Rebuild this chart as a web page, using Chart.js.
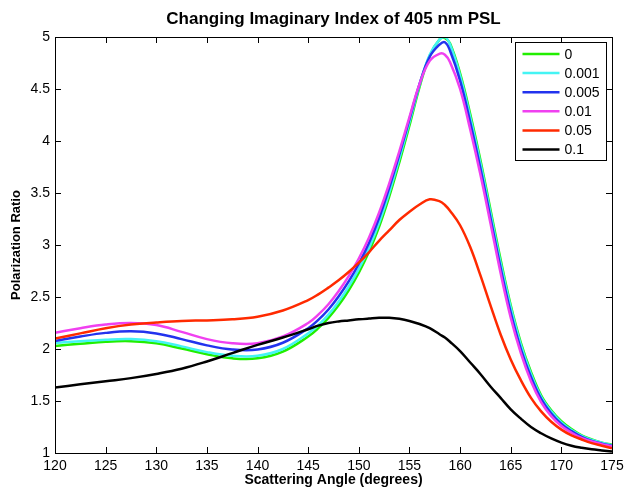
<!DOCTYPE html>
<html>
<head>
<meta charset="utf-8">
<script src="https://cdn.jsdelivr.net/npm/chart.js@4/dist/chart.umd.min.js"></script>
<style>
  html, body { margin: 0; padding: 0; background: #fff; }
  #wrap { width: 624px; height: 489px; }
</style>
</head>
<body>
<div id="wrap"><canvas id="psl"></canvas></div>
<script>
// Scattering angles (degrees)
const angles = [120, 122.5, 125, 127.5, 130, 132.5, 135, 137.5, 140, 142.5, 145,
  146, 147, 148, 149, 150, 151, 152, 153, 154, 155, 156, 157, 158, 158.5,
  159, 160, 161, 162, 163, 164, 165, 166, 167, 168, 169, 170, 171, 172, 173, 174, 175];

// Polarization ratio for each imaginary index
const k0 = [2.03, 2.05, 2.07, 2.075, 2.055, 2.005, 1.95, 1.91, 1.91, 1.975, 2.12,
  2.20, 2.30, 2.42, 2.565, 2.735, 2.935, 3.175, 3.465, 3.795, 4.15, 4.52, 4.82, 4.98, 4.99,
  4.94, 4.65, 4.26, 3.82, 3.34, 2.86, 2.42, 2.06, 1.78, 1.555, 1.41, 1.305, 1.23, 1.17, 1.13, 1.10, 1.08];
const k0001 = [2.058, 2.075, 2.09, 2.095, 2.075, 2.025, 1.97, 1.935, 1.935, 2.0, 2.15,
  2.23, 2.33, 2.455, 2.60, 2.77, 2.97, 3.21, 3.50, 3.83, 4.18, 4.54, 4.83, 4.98, 5.0,
  4.93, 4.63, 4.23, 3.79, 3.31, 2.83, 2.40, 2.04, 1.76, 1.54, 1.40, 1.295, 1.22, 1.165, 1.125, 1.10, 1.075];
const k0005 = [2.077, 2.12, 2.155, 2.17, 2.15, 2.095, 2.035, 1.995, 1.995, 2.06, 2.20,
  2.28, 2.38, 2.505, 2.65, 2.82, 3.02, 3.26, 3.55, 3.87, 4.21, 4.55, 4.81, 4.93, 4.95,
  4.87, 4.58, 4.18, 3.74, 3.26, 2.78, 2.35, 2.00, 1.73, 1.52, 1.38, 1.28, 1.21, 1.155, 1.115, 1.09, 1.07];
const k001 = [2.157, 2.20, 2.235, 2.25, 2.23, 2.165, 2.095, 2.055, 2.055, 2.12, 2.25,
  2.33, 2.43, 2.555, 2.70, 2.87, 3.07, 3.31, 3.59, 3.90, 4.23, 4.55, 4.77, 4.84, 4.83,
  4.76, 4.50, 4.11, 3.68, 3.21, 2.73, 2.30, 1.96, 1.69, 1.49, 1.355, 1.26, 1.195, 1.145, 1.11, 1.085, 1.065];
const k005 = [2.10, 2.15, 2.20, 2.235, 2.255, 2.27, 2.275, 2.285, 2.31, 2.37, 2.47,
  2.525, 2.59, 2.66, 2.74, 2.83, 2.93, 3.04, 3.14, 3.24, 3.32, 3.39, 3.44, 3.42, 3.385,
  3.33, 3.19, 2.98, 2.71, 2.42, 2.14, 1.90, 1.70, 1.53, 1.40, 1.30, 1.225, 1.17, 1.13, 1.095, 1.07, 1.045];
const k01 = [1.63, 1.66, 1.69, 1.72, 1.76, 1.81, 1.88, 1.96, 2.04, 2.11, 2.19,
  2.225, 2.25, 2.265, 2.275, 2.285, 2.293, 2.30, 2.30, 2.29, 2.27, 2.24, 2.20, 2.14, 2.11,
  2.07, 1.98, 1.87, 1.76, 1.64, 1.53, 1.42, 1.33, 1.25, 1.19, 1.14, 1.10, 1.07, 1.05, 1.035, 1.025, 1.015];

const seriesLabels = ["0", "0.001", "0.005", "0.01", "0.05", "0.1"];
const seriesValues = [k0, k0001, k0005, k001, k005, k01];
const seriesColors = ["#22ee00", "#44f4f4", "#2233ee", "#f040f0", "#ff2a00", "#000000"];

const xTicks = [120, 125, 130, 135, 140, 145, 150, 155, 160, 165, 170, 175];
const yTicks = [1, 1.5, 2, 2.5, 3, 3.5, 4, 4.5, 5];
const yTickLabels = ["1", "1.5", "2", "2.5", "3", "3.5", "4", "4.5", "5"];

const FONT = "'Liberation Sans', Arial, Helvetica, sans-serif";

// matlab style box, inward ticks and legend inside the axes
const matlabAxes = {
  id: "matlabAxes",
  afterDatasetsDraw(chart) {
    const { ctx, chartArea: a, scales: { x, y } } = chart;
    ctx.save();
    ctx.strokeStyle = "#000";
    ctx.lineWidth = 1;
    ctx.beginPath();
    x.ticks.forEach(t => {
      const px = Math.round(x.getPixelForValue(t.value)) + 0.5;
      ctx.moveTo(px, a.bottom); ctx.lineTo(px, a.bottom - 6);
      ctx.moveTo(px, a.top); ctx.lineTo(px, a.top + 6);
    });
    y.ticks.forEach(t => {
      const py = Math.round(y.getPixelForValue(t.value)) + 0.5;
      ctx.moveTo(a.left, py); ctx.lineTo(a.left + 6, py);
      ctx.moveTo(a.right, py); ctx.lineTo(a.right - 6, py);
    });
    ctx.stroke();
    ctx.strokeRect(Math.round(a.left) + 0.5, Math.round(a.top) + 0.5,
      Math.round(a.right - a.left), Math.round(a.bottom - a.top));

    // legend
    const bw = 91, bh = 118;
    const bx = Math.round(a.right - 6 - bw) + 0.5, by = Math.round(a.top + 5) + 0.5;
    ctx.fillStyle = "#fff";
    ctx.fillRect(bx, by, bw, bh);
    ctx.strokeRect(bx, by, bw, bh);
    ctx.font = "14px " + FONT;
    ctx.textBaseline = "middle";
    ctx.textAlign = "left";
    chart.data.datasets.forEach((ds, i) => {
      const ry = by + 11.5 + i * 19.1;
      ctx.strokeStyle = ds.borderColor;
      ctx.lineWidth = 2.5;
      ctx.beginPath();
      ctx.moveTo(bx + 7, ry); ctx.lineTo(bx + 44, ry);
      ctx.stroke();
      ctx.fillStyle = "#000";
      ctx.fillText(ds.label, bx + 49, ry + 1);
    });
    ctx.restore();
  }
};

const datasets = seriesLabels.map((label, i) => ({
  label,
  data: seriesValues[i].map((v, j) => ({ x: angles[j], y: v })),
  borderColor: seriesColors[i],
  backgroundColor: seriesColors[i],
  borderWidth: 2.5,
  pointRadius: 0,
  tension: 0.4,
  fill: false,
  order: seriesLabels.length - i
}));

new Chart(document.getElementById("psl"), {
  type: "line",
  data: { datasets },
  options: {
    responsive: true,
    maintainAspectRatio: false,
    animation: false,
    layout: { padding: { top: 0, right: 12, bottom: 0, left: 0 } },
    plugins: {
      legend: { display: false },
      tooltip: { enabled: false },
      title: {
        display: true,
        text: "Changing Imaginary Index of 405 nm PSL",
        fullSize: false,
        color: "#000",
        font: { family: FONT, size: 17, weight: "bold" },
        padding: { top: 9, bottom: 7.6 }
      }
    },
    scales: {
      x: {
        type: "linear",
        min: 120,
        max: 175,
        afterBuildTicks: s => { s.ticks = xTicks.map(v => ({ value: v })); },
        afterFit: s => { s.height = 36; s.paddingLeft = 0; s.paddingRight = 0; },
        grid: { display: false, drawTicks: false },
        border: { display: false },
        ticks: {
          color: "#000",
          font: { family: FONT, size: 14 },
          padding: 5,
          maxRotation: 0,
          autoSkip: false,
          callback: v => String(v)
        },
        title: {
          display: true,
          text: "Scattering Angle (degrees)",
          color: "#000",
          font: { family: FONT, size: 14, weight: "bold" },
          padding: { top: -3, bottom: 0 }
        }
      },
      y: {
        type: "linear",
        min: 1,
        max: 5,
        afterBuildTicks: s => { s.ticks = yTicks.map(v => ({ value: v })); },
        afterFit: s => { s.width = 55; s.paddingTop = 0; s.paddingBottom = 0; },
        grid: { display: false, drawTicks: false },
        border: { display: false },
        ticks: {
          color: "#000",
          font: { family: FONT, size: 14 },
          padding: 5,
          autoSkip: false,
          callback: (v, i) => yTickLabels[i]
        },
        title: {
          display: true,
          text: "Polarization Ratio",
          color: "#000",
          font: { family: FONT, size: 13, weight: "bold" },
          padding: { top: 9, bottom: 0 }
        }
      }
    }
  },
  plugins: [matlabAxes]
});
</script>
</body>
</html>
